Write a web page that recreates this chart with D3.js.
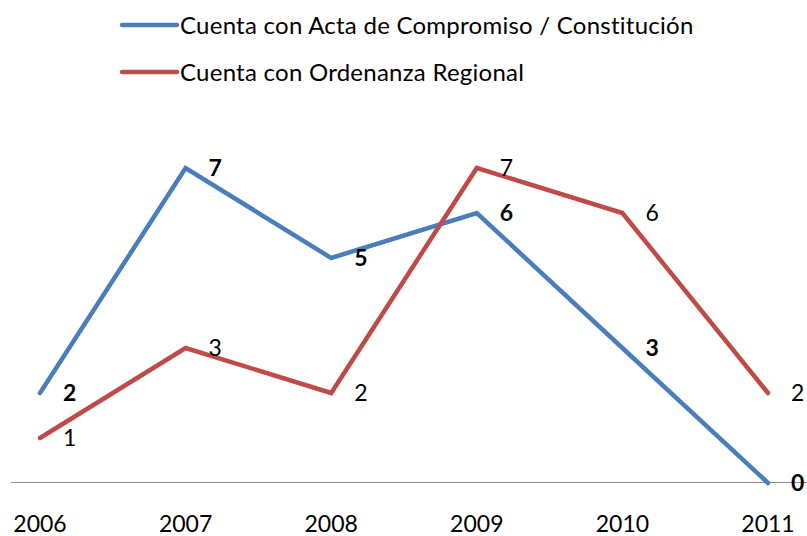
<!DOCTYPE html>
<html>
<head>
<meta charset="utf-8">
<script src="https://cdn.jsdelivr.net/npm/d3@7"></script>
<style>
  html, body { margin: 0; padding: 0; background: #fff; }
  svg { display: block; }
  text { font-family: Lato, "Open Sans", sans-serif; fill: #000; }
</style>
</head>
<body>
<svg id="chart" width="807" height="536"></svg>
<script>
// datos del gráfico
const years = ['2006', '2007', '2008', '2009', '2010', '2011'];
const actaValues = [2, 7, 5, 6, 3, 0];
const ordenanzaValues = [1, 3, 2, 7, 6, 2];
const seriesNames = ['Cuenta con Acta de Compromiso / Constitución', 'Cuenta con Ordenanza Regional'];
const seriesColors = ['#4a7ebb', '#be4b48'];

const width = 807, height = 536;
const svg = d3.select('#chart');

// escalas
const x = d3.scalePoint().domain(years).range([40, 768]);
const y = d3.scaleLinear().domain([0, 7]).range([483, 168]);

const series = [
  { name: seriesNames[0], values: actaValues, color: seriesColors[0], bold: true },
  { name: seriesNames[1], values: ordenanzaValues, color: seriesColors[1], bold: false }
];

// eje horizontal (sin marcas)
svg.append('line')
  .attr('x1', 11).attr('x2', width)
  .attr('y1', y(0) - 0.5).attr('y2', y(0) - 0.5)
  .attr('stroke', '#868686').attr('stroke-width', 1);

svg.selectAll('text.year')
  .data(years)
  .enter().append('text')
  .attr('class', 'year')
  .attr('x', d => x(d))
  .attr('y', 532)
  .attr('text-anchor', 'middle')
  .style('font-size', '23px')
  .text(d => d);

// líneas
const line = d3.line()
  .x((d, i) => x(years[i]))
  .y(d => y(d));

series.forEach(s => {
  svg.append('path')
    .datum(s.values)
    .attr('d', line)
    .attr('fill', 'none')
    .attr('stroke', s.color)
    .attr('stroke-width', 4.5)
    .attr('stroke-linejoin', 'miter')
    .attr('stroke-linecap', 'round');
});

// etiquetas de datos a la derecha de cada punto
series.forEach(s => {
  svg.selectAll(null)
    .data(s.values)
    .enter().append('text')
    .attr('x', (d, i) => x(years[i]) + 23)
    .attr('y', d => y(d))
    .attr('dy', '0.36em')
    .style('font-size', '23px')
    .style('font-weight', s.bold ? 'bold' : 'normal')
    .text(d => d);
});

// leyenda
const legend = svg.append('g');
series.forEach((s, i) => {
  const ly = 25 + i * 47;
  legend.append('line')
    .attr('x1', 122).attr('x2', 177)
    .attr('y1', ly).attr('y2', ly)
    .attr('stroke', s.color)
    .attr('stroke-width', 4.5)
    .attr('stroke-linecap', 'round');
  legend.append('text')
    .attr('x', 180)
    .attr('y', ly)
    .attr('dy', '0.36em')
    .style('font-size', '24px')
    .style('letter-spacing', '0.25px')
    .text(s.name);
});
</script>
</body>
</html>
